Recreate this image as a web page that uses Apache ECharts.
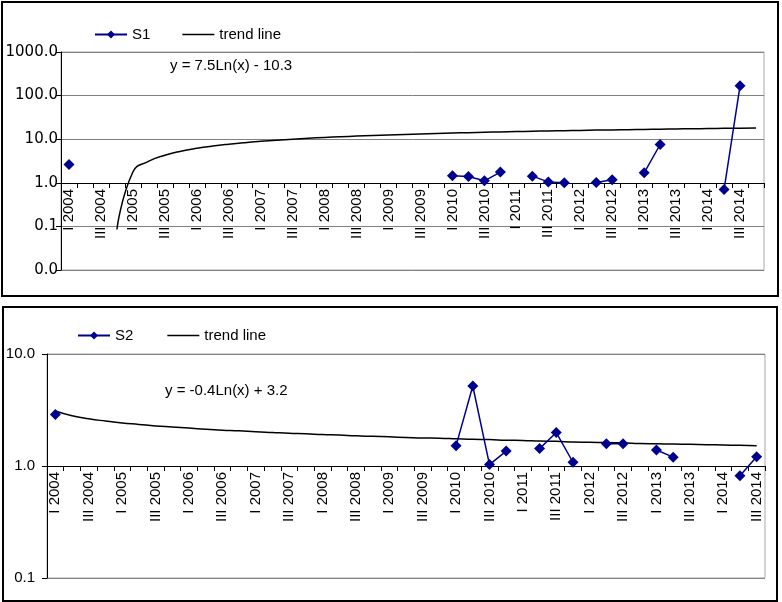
<!DOCTYPE html>
<html>
<head>
<meta charset="utf-8">
<script src="https://cdn.jsdelivr.net/npm/echarts@6/dist/echarts.min.js"></script>
<style>
html,body{margin:0;padding:0;background:#fff;}
#c{width:782px;height:602px;}
</style>
</head>
<body>
<div id="c"></div>
<script>
// Quarter categories
const categoriesTop = [
  'I 2004','II 2004','III 2004','IV 2004',
  'I 2005','II 2005','III 2005','IV 2005',
  'I 2006','II 2006','III 2006','IV 2006',
  'I 2007','II 2007','III 2007','IV 2007',
  'I 2008','II 2008','III 2008','IV 2008',
  'I 2009','II 2009','III 2009','IV 2009',
  'I 2010','II 2010','III 2010','IV 2010',
  'I 2011','II 2011','III 2011','IV 2011',
  'I 2012','II 2012','III 2012','IV 2012',
  'I 2013','II 2013','III 2013','IV 2013',
  'I 2014','II 2014','III 2014','IV 2014'
];
const categoriesBottom = [
  'I 2004','II 2004','III 2004','IV 2004',
  'I 2005','II 2005','III 2005','IV 2005',
  'I 2006','II 2006','III 2006','IV 2006',
  'I 2007','II 2007','III 2007','IV 2007',
  'I 2008','II 2008','III 2008','IV 2008',
  'I 2009','II 2009','III 2009','IV 2009',
  'I 2010','II 2010','III 2010','IV 2010',
  'I 2011','II 2011','III 2011','IV 2011',
  'I 2012','II 2012','III 2012','IV 2012',
  'I 2013','II 2013','III 2013','IV 2013',
  'I 2014','II 2014','III 2014'
];

// S1 values (top panel)
const s1Values = [
  2.63, null, null, null,
  null, null, null, null,
  null, null, null, null,
  null, null, null, null,
  null, null, null, null,
  null, null, null, null,
  1.45, 1.40, 1.11, 1.76,
  null, 1.42, 1.05, 1.00,
  null, 1.01, 1.17, null,
  1.69, 7.56, null, null,
  null, 0.70, 168, null
];
// trend line
const s1Trend = [
  null, null, null, 0.085,
  1.77, 3.14, 4.29, 5.30,
  6.18, 6.97, 7.68, 8.34,
  8.94, 9.49, 10.01, 10.49,
  10.95, 11.38, 11.78, 12.17,
  12.53, 12.88, 13.22, 13.54,
  13.84, 14.14, 14.42, 14.69,
  14.95, 15.21, 15.46, 15.69,
  15.92, 16.15, 16.36, 16.58,
  16.78, 16.98, 17.18, 17.37,
  17.55, 17.73, 17.91, 18.08
];

// S2 values (bottom panel)
const s2Values = [
  2.89, null, null, null,
  null, null, null, null,
  null, null, null, null,
  null, null, null, null,
  null, null, null, null,
  null, null, null, null,
  1.52, 5.18, 1.03, 1.36,
  null, 1.43, 1.99, 1.08,
  null, 1.58, 1.58, null,
  1.39, 1.20, null, null,
  null, 0.82, 1.21
];
// trend line
const s2Trend = [
  3.10, 2.81, 2.64, 2.52,
  2.42, 2.35, 2.28, 2.23,
  2.18, 2.13, 2.09, 2.06,
  2.02, 1.99, 1.96, 1.94,
  1.91, 1.89, 1.86, 1.84,
  1.82, 1.80, 1.78, 1.77,
  1.75, 1.73, 1.72, 1.70,
  1.69, 1.67, 1.66, 1.64,
  1.63, 1.62, 1.61, 1.59,
  1.58, 1.57, 1.56, 1.55,
  1.54, 1.53, 1.52
];

const equationTop = 'y = 7.5Ln(x) - 10.3';
const equationBottom = 'y = -0.4Ln(x) + 3.2';

const FONT = '"Liberation Sans", Arial, sans-serif';
const WIDE_FONT = '"DejaVu Sans", "Liberation Sans", sans-serif';
const NAVY = '#000090';
const LINE_ICON = 'path://M0,0 L0,0 M0,4.3 L32,4.3 L32,5.7 L0,5.7 Z M32,10 L32,10';

const chart = echarts.init(document.getElementById('c'), null, {renderer: 'canvas'});

function xAxisCfg(gridIndex, data, offset) {
  return {
    type: 'category',
    gridIndex: gridIndex,
    data: data,
    boundaryGap: true,
    position: 'bottom',
    offset: offset,
    axisLine: {show: true, lineStyle: {color: '#000', width: 1}},
    axisTick: {show: true, interval: 0, length: 5, inside: false, lineStyle: {color: '#000'}},
    axisLabel: {
      interval: 1, rotate: 90, margin: 6,
      fontFamily: FONT, fontSize: 15, color: '#000'
    },
    splitLine: {show: false}
  };
}

function yAxisCfg(gridIndex, min, max, margin, family) {
  return {
    type: 'log',
    logBase: 10,
    gridIndex: gridIndex,
    min: min,
    max: max,
    axisLine: {show: true, lineStyle: {color: '#000', width: 1}},
    axisTick: {show: true, length: 5, lineStyle: {color: '#000'}},
    axisLabel: {
      margin: margin,
      fontFamily: family, fontSize: 15, color: '#000',
      formatter: function (v) { return Number(v).toFixed(1); }
    },
    splitLine: {show: true, lineStyle: {color: '#808080', width: 1}}
  };
}

const option = {
  animation: false,
  backgroundColor: '#fff',
  grid: [
    {left: 61, top: 52, width: 703, height: 218, show: true, borderColor: '#a8a8a8', borderWidth: 1, containLabel: false},
    {left: 47, top: 354, width: 718, height: 224, show: true, borderColor: '#a8a8a8', borderWidth: 1, containLabel: false}
  ],
  xAxis: [
    xAxisCfg(0, categoriesTop, -87),
    xAxisCfg(1, categoriesBottom, -112)
  ],
  yAxis: [
    yAxisCfg(0, 0.01, 1000, 3, WIDE_FONT),
    yAxisCfg(1, 0.1, 10, 12, FONT)
  ],
  legend: [
    {
      data: ['S1', {name: 'trend line', icon: LINE_ICON}],
      left: 89, top: 22,
      itemWidth: 32, itemHeight: 10, itemGap: 32,
      textStyle: {fontFamily: FONT, fontSize: 15, color: '#000'},
      selectedMode: false
    },
    {
      data: ['S2', {name: 'trend line', icon: LINE_ICON}],
      left: 72, top: 323,
      itemWidth: 32, itemHeight: 10, itemGap: 34,
      textStyle: {fontFamily: FONT, fontSize: 15, color: '#000'},
      selectedMode: false
    }
  ],
  graphic: [
    {type: 'rect', shape: {x: 2, y: 2, width: 776, height: 294}, style: {fill: 'none', stroke: '#000', lineWidth: 2}, silent: true},
    {type: 'rect', shape: {x: 3, y: 307, width: 774, height: 294}, style: {fill: 'none', stroke: '#000', lineWidth: 2}, silent: true},
    {type: 'text', left: 170, top: 58, style: {text: equationTop, font: '15px ' + FONT, fill: '#000'}, silent: true},
    {type: 'text', left: 165, top: 383, style: {text: equationBottom, font: '15px ' + FONT, fill: '#000'}, silent: true}
  ],
  series: [
    {
      name: 'S1', type: 'line', xAxisIndex: 0, yAxisIndex: 0,
      data: s1Values, connectNulls: false,
      symbol: 'diamond', symbolSize: 11, showAllSymbol: true,
      itemStyle: {color: NAVY},
      lineStyle: {color: NAVY, width: 1.5},
      z: 5
    },
    {
      name: 'trend line', type: 'line', xAxisIndex: 0, yAxisIndex: 0,
      data: s1Trend, smooth: true, showSymbol: false, symbol: 'none',
      itemStyle: {color: '#000'},
      lineStyle: {color: '#000', width: 1.5},
      z: 4
    },
    {
      name: 'S2', type: 'line', xAxisIndex: 1, yAxisIndex: 1,
      data: s2Values, connectNulls: false,
      symbol: 'diamond', symbolSize: 11, showAllSymbol: true,
      itemStyle: {color: NAVY},
      lineStyle: {color: NAVY, width: 1.5},
      z: 5
    },
    {
      name: 'trend line', type: 'line', xAxisIndex: 1, yAxisIndex: 1,
      data: s2Trend, smooth: true, showSymbol: false, symbol: 'none',
      itemStyle: {color: '#000'},
      lineStyle: {color: '#000', width: 1.5},
      z: 4
    }
  ]
};
chart.setOption(option);
</script>
</body>
</html>
